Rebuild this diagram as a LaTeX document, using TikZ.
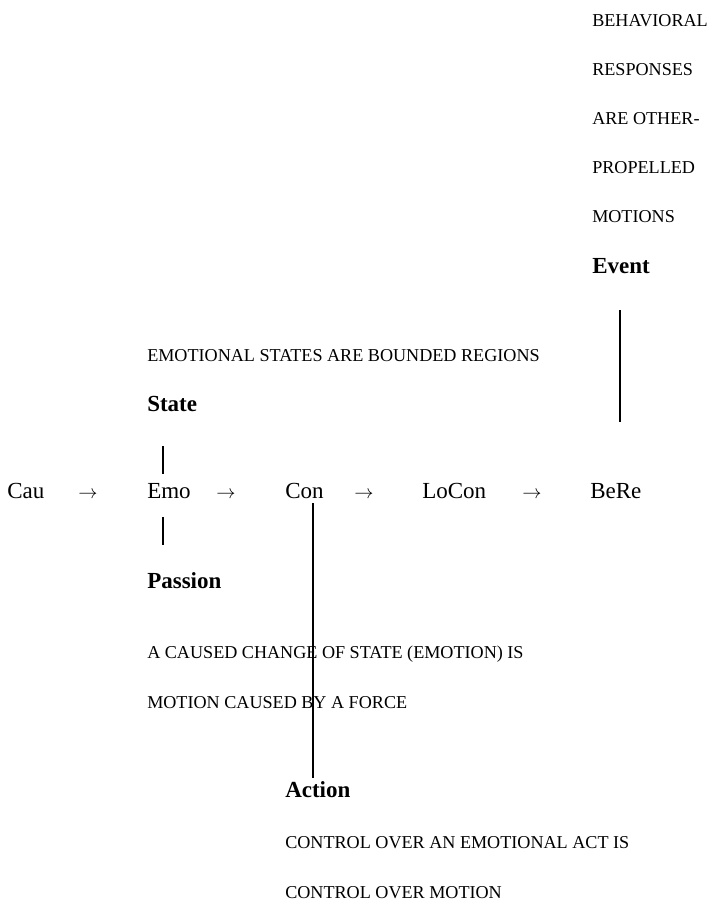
\documentclass[tikz,border=0pt]{standalone}
\usepackage{fontspec}
\setmainfont{Liberation Serif}
\begin{document}
\begin{tikzpicture}[x=0.75pt,y=-0.75pt,
  caps/.style={anchor=base west,inner sep=0pt,font=\fontsize{13.6}{16}\selectfont},
  term/.style={anchor=base west,inner sep=0pt,font=\fontsize{17.25}{20}\selectfont},
  head/.style={anchor=base west,inner sep=0pt,font=\fontsize{17.25}{20}\selectfont\bfseries},
  arr/.style={anchor=base,inner sep=0pt,font=\fontsize{15.75}{18}\selectfont},
  link/.style={line width=0.9pt}]
\useasboundingbox (0,0) rectangle (710,902);
% top right block
\node[caps] (b1) at (592,27) {BEHAVIORAL};
\node[caps] (b2) at (592,76) {RESPONSES};
\node[caps] (b3) at (592,125) {ARE OTHER-};
\node[caps] (b4) at (592,174) {PROPELLED};
\node[caps] (b5) at (592,223) {MOTIONS};
\node[head] (Event) at (592,273) {Event};
% state block
\node[caps] (esr) at (147,361) {EMOTIONAL STATES ARE BOUNDED REGIONS};
\node[head] (State) at (147,411) {State};
% main row
\node[term] (Cau) at (7,498) {Cau};
\node[arr] (a1) at (88,498) {$\rightarrow$};
\node[term] (Emo) at (147,498) {Emo};
\node[arr] (a2) at (226,498) {$\rightarrow$};
\node[term] (Con) at (285,498) {Con};
\node[arr] (a3) at (364,498) {$\rightarrow$};
\node[term] (LoCon) at (422,498) {LoCon};
\node[arr] (a4) at (532,498) {$\rightarrow$};
\node[term] (BeRe) at (590,498) {BeRe};
% passion block
\node[head] (Passion) at (147,588) {Passion};
\node[caps] (p1) at (147,658) {A CAUSED CHANGE OF STATE (EMOTION) IS};
\node[caps] (p2) at (147,708) {MOTION CAUSED BY A FORCE};
% action block
\node[head] (Action) at (285,797) {Action};
\node[caps] (c1) at (285,848) {CONTROL OVER AN EMOTIONAL ACT IS};
\node[caps] (c2) at (285,898) {CONTROL OVER MOTION};
% connectors
\coordinate (ev1) at (620,310);
\coordinate (ev2) at (620,422);
\coordinate (st1) at (163,446);
\coordinate (st2) at (163,474);
\coordinate (pa1) at (163,517);
\coordinate (pa2) at (163,545);
\coordinate (ac1) at (313,503);
\coordinate (ac2) at (313,778);
\draw[link] (ev1) -- (ev2);
\draw[link] (st1) -- (st2);
\draw[link] (pa1) -- (pa2);
\draw[link] (ac1) -- (ac2);
\end{tikzpicture}
\end{document}
